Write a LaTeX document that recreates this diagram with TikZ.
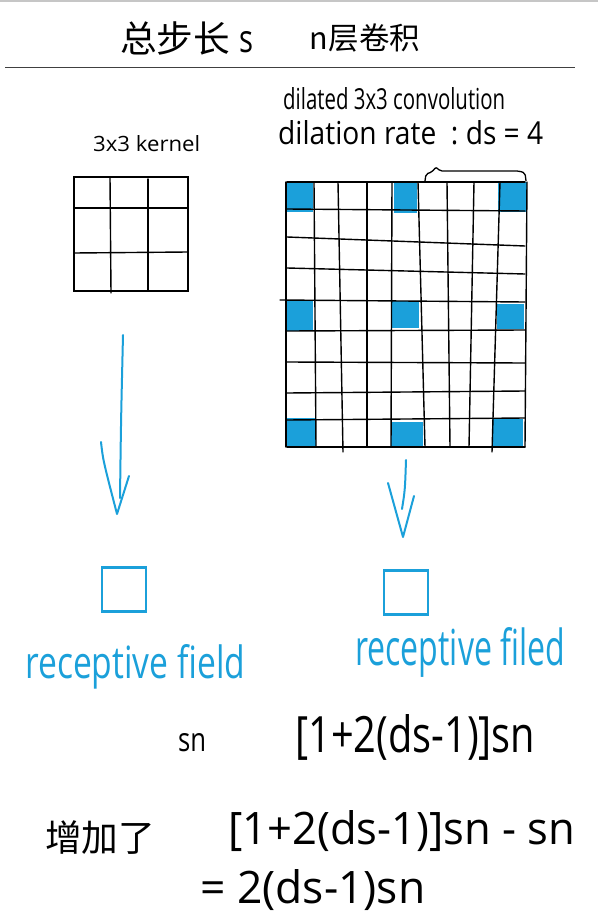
\documentclass[tikz,border=0pt]{standalone}
\usepackage{fontspec}
\usepackage{graphicx}
\setmainfont{Open Sans}
\newfontfamily\cjk{Noto Sans CJK SC}
\definecolor{skblue}{RGB}{27,160,218}
\tikzset{
  lbl/.style={inner sep=0pt},
  bl/.style={inner sep=0pt, anchor=base west},
  gridln/.style={line width=1.4pt, black, line cap=round},
  bluebox/.style={draw=skblue, line width=2.2pt, minimum size=44pt, inner sep=0pt},
  arr/.style={draw=skblue, line width=2pt, line cap=round, line join=round},
}
\newcommand{\fw}[2]{\resizebox{#1pt}{!}{#2}}
\newcommand{\fwh}[3]{\resizebox{#1pt}{#2pt}{#3}}
\begin{document}
\begin{tikzpicture}[x=1pt,y=-1pt]
\useasboundingbox (0,0) rectangle (598,912);
% top edge and rule
\draw[gray!45, line width=2pt] (0,1) -- (598,1);
\draw[line width=1.5pt, black!75] (5,67.5) -- (575,67.5);
% title
\node[lbl] (t1) at (175,38) {\fw{110}{\cjk 总步长}};
\node[bl] (t2) at (239,53) {\fwh{14}{21}{s}};
\node[lbl] (t3) at (365,38) {\fw{110}{\cjk n层卷积}};
% kernel
\node[bl] (k) at (93,152) {\fwh{107}{16}{3x3 kernel}};
\draw[gridln] (74,177) rectangle (188,291);
\draw[gridln] (110,177) -- (111,293);
\draw[gridln] (148,179) -- (148,291);
\draw[gridln] (74,208) -- (188,208);
\draw[gridln] (74,253) -- (188,252);
% dilated conv text
\node[bl] (d1) at (283,110) {\fwh{222}{22}{dilated 3x3 convolution}};
\node[bl] (d2) at (278,145) {\fwh{265}{24}{dilation rate\ \ :\ ds = 4}};
% brace
\draw[line width=1.3pt, rounded corners=2pt] (425,181) -- (426,174) -- (432,172) -- (436,167) -- (440,171) -- (519,171) -- (525,173) -- (526,181);
% blue cells
\foreach \a/\b/\c/\d in {286/183/313/212, 394/183/417/213, 498/182/527/212,
  286/301/313/331, 391/301/419/328, 497/304/524/329,
  286/418/316/447, 391/422/423/447, 492/419/523/447}
  \fill[skblue] (\a,\b) rectangle (\c,\d);
% grid vertical lines
\foreach \t/\b in {286/286, 314/316, 367/367, 392/391, 418/425, 447/450, 474/469, 527/525}
  \draw[gridln] (\t,182) -- (\b,447);
\draw[gridln] (338,182) -- (343,452);
\draw[gridln] (500,182) -- (492,452);
% grid horizontal lines
\foreach \l/\r in {182/182, 209/211, 237/246, 268/274, 331/330, 362/363, 393/391, 420/418, 447/447}
  \draw[gridln] (287,\l) -- (525,\r);
\draw[gridln] (280,300) -- (525,302);
% arrows
\coordinate (a1s) at (123,335);
\coordinate (a1e) at (120,498);
\coordinate (a1tip) at (117,514);
\coordinate (a1l) at (101,442);
\coordinate (a1r) at (129,476);
\draw[arr] (a1s) .. controls (121,420) .. (a1e);
\draw[arr] (a1l) .. controls (103,460) .. (a1tip) -- (a1r);
\coordinate (a2s) at (406,460);
\coordinate (a2e) at (402,509);
\coordinate (a2tip) at (403,537);
\coordinate (a2l) at (388,483);
\coordinate (a2r) at (414,496);
\draw[arr] (a2s) .. controls (405,490) .. (a2e);
\draw[arr] (a2l) -- (a2tip) -- (a2r);
% receptive field squares
\node[bluebox] (rf1) at (124,589.5) {};
\node[bluebox] (rf2) at (406,592.5) {};
\node[bl, text=skblue] (rf1l) at (25,678) {\fwh{220}{34}{receptive field}};
\node[bl, text=skblue] (rf2l) at (355,665) {\fwh{210}{38}{receptive filed}};
% formulas
\node[bl] (sn) at (178,751) {\fwh{28}{18}{sn}};
\node[bl] (f1) at (295,752) {\fwh{240}{38}{[1+2(ds-1)]sn}};
\node[lbl] (zj) at (100,838) {\fw{110}{\cjk 增加了}};
\node[bl] (f2) at (228,844) {\fwh{347}{34}{[1+2(ds-1)]sn - sn}};
\node[bl] (f3) at (200,903) {\fwh{225}{34}{= 2(ds-1)sn}};
\end{tikzpicture}
\end{document}
